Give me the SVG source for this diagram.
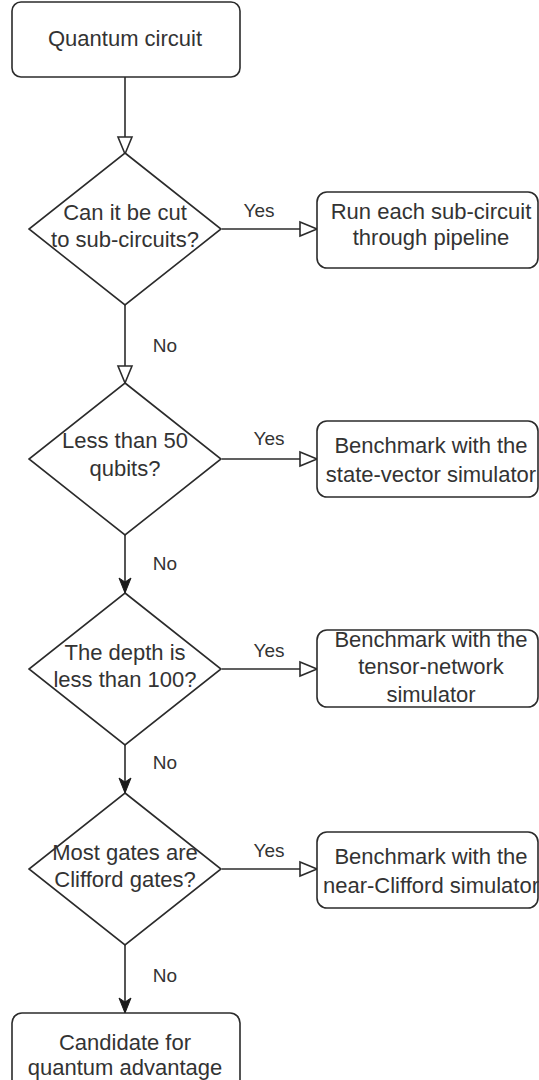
<svg xmlns="http://www.w3.org/2000/svg" width="539" height="1080" viewBox="0 0 539 1080">
<style>
  .shape { fill: #ffffff; stroke: #2b2b2b; stroke-width: 1.6; }
  .edge { fill: none; stroke: #2b2b2b; stroke-width: 1.6; }
  .t { font-family: "Liberation Sans", Arial, sans-serif; font-size: 22px; fill: #333333; text-anchor: middle; }
  .lbl { font-family: "Liberation Sans", Arial, sans-serif; font-size: 19px; fill: #333333; text-anchor: middle; }
</style>
<defs>
  <marker id="open" markerUnits="userSpaceOnUse" markerWidth="20" markerHeight="16" refX="17" refY="7" orient="auto" overflow="visible">
    <path d="M0,0 L17,7 L0,14 Z" fill="#ffffff" stroke="#2b2b2b" stroke-width="1.6"/>
  </marker>
  <marker id="filled" markerUnits="userSpaceOnUse" markerWidth="18" markerHeight="14" refX="15" refY="6" orient="auto" overflow="visible">
    <path d="M0,0 L15,6 L0,12 L4,6 Z" fill="#1a1a1a" stroke="#1a1a1a" stroke-width="1"/>
  </marker>
</defs>
<rect width="539" height="1080" fill="#ffffff"/>

<g id="connectors">
  <line class="edge" x1="125" y1="77" x2="125" y2="154" marker-end="url(#open)"/>
  <line class="edge" x1="222" y1="229" x2="317" y2="229" marker-end="url(#open)"/>
  <text class="lbl" x="259" y="217">Yes</text>
  <line class="edge" x1="125" y1="305" x2="125" y2="383" marker-end="url(#open)"/>
  <text class="lbl" x="165" y="352">No</text>
  <line class="edge" x1="222" y1="459" x2="317" y2="459" marker-end="url(#open)"/>
  <text class="lbl" x="269" y="445">Yes</text>
  <line class="edge" x1="125" y1="535" x2="125" y2="593" marker-end="url(#filled)"/>
  <text class="lbl" x="165" y="570">No</text>
  <line class="edge" x1="222" y1="669" x2="317" y2="669" marker-end="url(#open)"/>
  <text class="lbl" x="269" y="657">Yes</text>
  <line class="edge" x1="125" y1="745" x2="125" y2="793" marker-end="url(#filled)"/>
  <text class="lbl" x="165" y="769">No</text>
  <line class="edge" x1="222" y1="869" x2="317" y2="869" marker-end="url(#open)"/>
  <text class="lbl" x="269" y="857">Yes</text>
  <line class="edge" x1="125" y1="945" x2="125" y2="1013" marker-end="url(#filled)"/>
  <text class="lbl" x="165" y="982">No</text>
</g>

<g id="start">
  <rect class="shape" x="12" y="2" width="228" height="75" rx="9"/>
  <text class="t" x="125" y="46">Quantum circuit</text>
</g>

<g id="q1">
  <polygon class="shape" points="125,153 221,229 125,305 29,229"/>
  <text class="t" x="125" y="220">Can it be cut</text>
  <text class="t" x="125" y="247">to sub-circuits?</text>
</g>
<g id="r1">
  <rect class="shape" x="317" y="192" width="221" height="76" rx="10"/>
  <text class="t" x="431" y="219">Run each sub-circuit</text>
  <text class="t" x="431" y="245">through pipeline</text>
</g>

<g id="q2">
  <polygon class="shape" points="125,383 221,459 125,535 29,459"/>
  <text class="t" x="125" y="448">Less than 50</text>
  <text class="t" x="125" y="476">qubits?</text>
</g>
<g id="r2">
  <rect class="shape" x="317" y="421" width="221" height="76" rx="10"/>
  <text class="t" x="431" y="453">Benchmark with the</text>
  <text class="t" x="431" y="482">state-vector simulator</text>
</g>

<g id="q3">
  <polygon class="shape" points="125,593 221,669 125,745 29,669"/>
  <text class="t" x="125" y="660">The depth is</text>
  <text class="t" x="125" y="687">less than 100?</text>
</g>
<g id="r3">
  <rect class="shape" x="317" y="630" width="221" height="77" rx="10"/>
  <text class="t" x="431" y="647">Benchmark with the</text>
  <text class="t" x="431" y="674">tensor-network</text>
  <text class="t" x="431" y="702">simulator</text>
</g>

<g id="q4">
  <polygon class="shape" points="125,793 221,869 125,945 29,869"/>
  <text class="t" x="125" y="860">Most gates are</text>
  <text class="t" x="125" y="887">Clifford gates?</text>
</g>
<g id="r4">
  <rect class="shape" x="317" y="832" width="221" height="76" rx="10"/>
  <text class="t" x="431" y="864">Benchmark with the</text>
  <text class="t" x="431" y="893">near-Clifford simulator</text>
</g>

<g id="end">
  <rect class="shape" x="12" y="1013" width="228" height="80" rx="10"/>
  <text class="t" x="125" y="1050">Candidate for</text>
  <text class="t" x="125" y="1075">quantum advantage</text>
</g>
</svg>
